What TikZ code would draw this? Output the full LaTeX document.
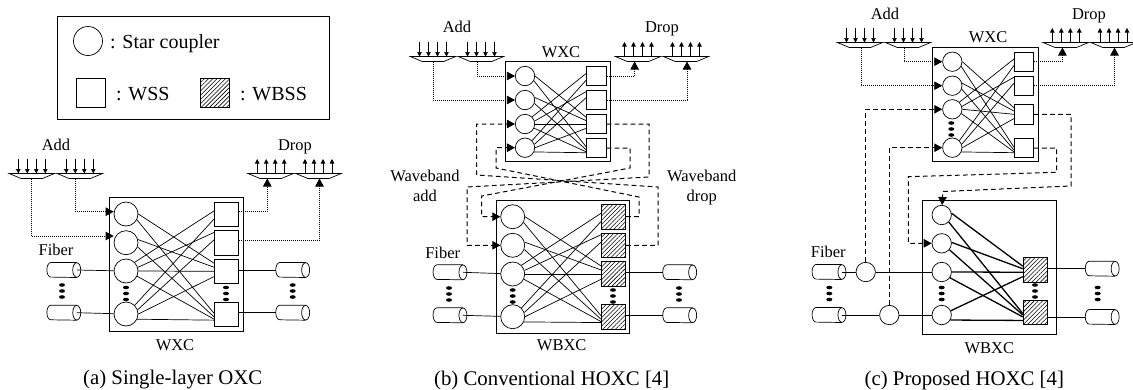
\documentclass[tikz,border=0pt]{standalone}
\usepackage{fontspec}
\setmainfont{Liberation Serif}
\usetikzlibrary{patterns.meta,arrows.meta}
\newcommand\labelsize{\fontsize{16.5}{19.5}\selectfont}
\newcommand\legendsize{\fontsize{20}{22}\selectfont}
\newcommand\captionsize{\fontsize{20.8}{23}\selectfont}
\newcommand\meshlist{1/0/3/147,1/-28/4/175,2/15/3/162,2/-20/4/191,3/45/1/165,3/17/2/140,3/0/3/180,3/-25/4/201,4/45/1/201,4/20/2/166,4/0/3/203,4/-25/4/205}
\newcommand\wxcmesh[2][]{
  \foreach \cn/\ca/\sn/\sa in \meshlist
    \draw[meshline,#1] (#2c\cn.\ca) -- (#2s\sn.\sa) ;
}
\newcommand\muxshape[3]{
  \node (#1) [muxbox] at (#2,#3) {} ;
  \draw[thinline] (#1.north west) -- (#1.north east) -- ([xshift=-12pt]#1.south east)
     -- ([xshift=12pt]#1.south west) -- cycle ;
}
\newcommand\addmux[3]{
  \muxshape{#1}{#2}{#3}
  \foreach \d in {-13.5,-4.5,4.5,13.5}
    \draw[addarrow] ([xshift=\d pt,yshift=14.5pt]#1.north) -- ([xshift=\d pt]#1.north) ;
}
\newcommand\dropmux[3]{
  \muxshape{#1}{#2}{#3}
  \foreach \d in {-13.5,-4.5,4.5,13.5}
    \draw[addarrow] ([xshift=\d pt]#1.north) -- ([xshift=\d pt,yshift=14.5pt]#1.north) ;
}
\newcommand\fibercable[3]{
  \node (#1) [cablebox] at (#2,#3) {} ;
  \draw[thinline] ([xshift=-4pt]#1.east) ellipse (4pt and 7.3pt) ;
  \draw[thinline] ([xshift=-4pt]#1.north east) -- ([xshift=4pt]#1.north west)
     arc (90:270:4pt and 7.3pt) -- ([xshift=-4pt]#1.south east) ;
}
\newcommand\vdotstack[2]{
  \foreach \d in {-6,0,6}
    \fill (#1,{#2+\d}) ellipse (3pt and 1.8pt) ;
}
\tikzset{
  thinline/.style={line width=.7pt},
  meshline/.style={thinline},
  coupler/.style={circle,draw,thinline,inner sep=0pt,minimum size=#1},
  coupler/.default=24pt,
  wssbox/.style={rectangle,draw,thinline,inner sep=0pt,minimum size=#1},
  wssbox/.default=24.4pt,
  wbssbox/.style={wssbox=#1,pattern={Lines[angle=45,distance=3pt,line width=.55pt]}},
  wbssbox/.default=24.4pt,
  oxcbox/.style={rectangle,draw,line width=.8pt,inner sep=0pt},
  cablebox/.style={rectangle,inner sep=0pt,minimum width=33.5pt,minimum height=14.6pt},
  muxbox/.style={rectangle,inner sep=0pt,minimum width=45pt,minimum height=4.6pt},
  addarrow/.style={thinline,-{Triangle[length=4.5pt,width=4.5pt]}},
  dottedline/.style={line width=.7pt,dash pattern=on 1pt off 1pt,-{Triangle[length=8pt,width=8.5pt]}},
  dashedline/.style={line width=1pt,dash pattern=on 4.7pt off 3.3pt,-{Triangle[length=8pt,width=8.5pt]}},
  textlabel/.style={anchor=base,inner sep=0pt,font=\labelsize},
  legendtext/.style={anchor=base west,inner sep=0pt,font=\legendsize},
  captiontext/.style={anchor=base,inner sep=0pt,font=\captionsize},
}
\begin{document}
\begin{tikzpicture}[x=1pt,y=-1pt]
  \useasboundingbox (0,0) rectangle (1133,389) ;
  \node (legendbox) [oxcbox,minimum width=272pt,minimum height=103pt] at (193,67.5) {} ;
  \node (legendstar) [coupler=29pt] at (88,41) {} ;
  \node (legendstartext) [legendtext] at (110,48) {: Star coupler} ;
  \node (legendwss) [wssbox=29pt] at (90.5,93) {} ;
  \node (legendwsstext) [legendtext] at (116,100) {: WSS} ;
  \node (legendwbss) [wbssbox=29pt] at (214.5,93) {} ;
  \node (legendwbsstext) [legendtext] at (240,100) {: WBSS} ;

  \node (aoxc) [oxcbox,minimum width=134pt,minimum height=133.6pt] at (176.3,264.5) {} ;
  \foreach \n/\y in {1/214,2/242.7,3/271,4/314}
    \node (ac\n) [coupler] at (126,\y) {} ;
  \foreach \n/\y in {1/214.3,2/243,3/271.3,4/314.3}
    \node (as\n) [wssbox] at (226.5,\y) {} ;
  \wxcmesh{a}
  \vdotstack{126}{293.5} \vdotstack{226}{293.5}
  \node (aaddlabel) [textlabel] at (56,150) {Add} ;
  \node (adroplabel) [textlabel] at (295,150) {Drop} ;
  \node (afiberlabel) [textlabel] at (56,255) {Fiber} ;
  \node (awxclabel) [textlabel] at (175,350.5) {WXC} ;
  \node (acaption) [captiontext] at (172.7,384) {(a) Single-layer OXC} ;
  \addmux{aadd1}{31.8}{176}
  \addmux{aadd2}{79.8}{176}
  \dropmux{adrop1}{270.7}{176}
  \dropmux{adrop2}{318.5}{176}
  \draw[dottedline] (aadd1.south) |- ([yshift=6.7pt]ac2.west) ;
  \draw[dottedline] ([xshift=-4pt]aadd2.south) |- ([yshift=2.3pt]ac1.west) ;
  \draw[dottedline] ([yshift=2.6pt]as1.east) -| ([xshift=-3.4pt]adrop1.south) ;
  \draw[dottedline] ([yshift=2.3pt]as2.east) -| ([xshift=1pt]adrop2.south) ;
  \fibercable{afl1}{63.8}{270}
  \fibercable{afl2}{63.8}{312.7}
  \fibercable{afr1}{292.7}{270}
  \fibercable{afr2}{292.7}{312.7}
  \vdotstack{62}{291} \vdotstack{292.7}{291}
  \draw[thinline] ([xshift=-4pt]afl1.east) -- (ac3) ;
  \draw[thinline] ([xshift=-4pt]afl2.east) -- (ac4) ;
  \draw[thinline] (as3.east |- afr1) -- (afr1.west) ;
  \draw[thinline] (as4.east |- afr2) -- (afr2.west) ;

  \node (bwxc) [oxcbox,minimum width=105pt,minimum height=100pt] at (558.2,111.7) {} ;
  \foreach \n/\y in {1/76,2/100,3/124,4/147.7}
    \node (bc\n) [coupler=19.4pt] at (525,\y) {} ;
  \foreach \n/\y in {1/76,2/100,3/124,4/148}
    \node (bs\n) [wssbox=19.6pt] at (596.5,\y) {} ;
  \wxcmesh{b}
  \node (bxaddlabel) [textlabel] at (457,32.3) {Add} ;
  \node (bxdroplabel) [textlabel] at (662,32.3) {Drop} ;
  \node (bwxclabel) [textlabel] at (561,57.3) {WXC} ;
  \addmux{badd1}{433}{59}
  \addmux{badd2}{481}{59}
  \dropmux{bdrop1}{638}{59}
  \dropmux{bdrop2}{686}{59}
  \draw[dottedline] (badd1.south) |- (bc2) ;
  \draw[dottedline] ([xshift=-4pt]badd2.south) |- (bc1) ;
  \draw[dottedline] (bs1) -| ([xshift=-3.4pt]bdrop1.south) ;
  \draw[dottedline] (bs2) -| ([xshift=1pt]bdrop2.south) ;
  \node (bwaveadd) [textlabel] at (425,181) {Waveband} ;
  \node (bwaveadd2) [textlabel] at (425,201) {add} ;
  \node (bwavedrop) [textlabel] at (701.7,181) {Waveband} ;
  \node (bwavedrop2) [textlabel] at (701.7,201) {drop} ;
  \node (boxc) [oxcbox,minimum width=133.7pt,minimum height=133.7pt] at (562.8,266.8) {} ;
  \foreach \n/\y in {1/216.7,2/245.3,3/274,4/316.7}
    \node (dc\n) [coupler] at (512.7,\y) {} ;
  \foreach \n/\y in {1/216.7,2/245.3,3/274,4/316.7}
    \node (ds\n) [wbssbox] at (613.5,\y) {} ;
  \wxcmesh{d}
  \vdotstack{512.7}{296} \vdotstack{613}{296}
  \draw[dashedline] (ds2) -- (658,245.3) -- (658,187) -- (476.7,175) |- (bc3) ;
  \draw[dashedline] (ds1) -- (639,216.7) -- (639,197) -- (496,168) |- (bc4) ;
  \draw[dashedline] (bs3) -- (649,124) -- (649,177) -- (467,187) |- (dc2) ;
  \draw[dashedline] (bs4) -- (630,148) -- (630,168) -- (481.7,196) |- (dc1) ;
  \node (bfiberlabel) [textlabel] at (442.7,258.3) {Fiber} ;
  \node (bwbxclabel) [textlabel] at (561.7,350) {WBXC} ;
  \node (bcaption) [captiontext] at (551.7,385) {(b) Conventional HOXC [4]} ;
  \fibercable{bfl1}{450}{272.3}
  \fibercable{bfl2}{450}{315.3}
  \fibercable{bfr1}{679.7}{272.3}
  \fibercable{bfr2}{679.7}{315.3}
  \vdotstack{449}{294} \vdotstack{679}{294}
  \draw[thinline] ([xshift=-4pt]bfl1.east) -- (dc3) ;
  \draw[thinline] ([xshift=-4pt]bfl2.east) -- (dc4) ;
  \draw[thinline] (ds3.east |- bfr1) -- (bfr1.west) ;
  \draw[thinline] (ds4.east |- bfr2) -- (bfr2.west) ;

  \node (cwxc) [oxcbox,minimum width=105.6pt,minimum height=114pt] at (985.5,104.7) {} ;
  \foreach \n/\y in {1/61.7,2/85.7,3/109.3,4/147.7}
    \node (cc\n) [coupler=19.4pt] at (952.3,\y) {} ;
  \foreach \n/\y in {1/61.7,2/85.7,3/114.3,4/148}
    \node (cs\n) [wssbox=19.4pt] at (1024,\y) {} ;
  \wxcmesh{c}
  \vdotstack{951.3}{129}
  \node (caddlabel) [textlabel] at (885,19) {Add} ;
  \node (cdroplabel) [textlabel] at (1089,19) {Drop} ;
  \node (cwxclabel) [textlabel] at (988,42.7) {WXC} ;
  \addmux{cadd1}{860}{45}
  \addmux{cadd2}{908}{45}
  \dropmux{cdrop1}{1065.8}{45}
  \dropmux{cdrop2}{1113.5}{45}
  \draw[dottedline] ([xshift=1pt]cadd1.south) |- (cc2) ;
  \draw[dottedline] ([xshift=-4pt]cadd2.south) |- (cc1) ;
  \draw[dottedline] (cs1) -| ([xshift=-3.4pt]cdrop1.south) ;
  \draw[dottedline] (cs2) -| ([xshift=1pt]cdrop2.south) ;
  \node (coxc) [oxcbox,minimum width=133.6pt,minimum height=133.4pt] at (989.5,267.4) {} ;
  \foreach \n/\y in {1/215,2/243.3,3/272,4/315}
    \node (ec\n) [coupler=19.4pt] at (941.7,\y) {} ;
  \node (es1) [wbssbox] at (1035.3,270) {} ;
  \node (es2) [wbssbox] at (1035.3,312.3) {} ;
  \foreach \cn/\ca/\sn/\sa in {1/10/1/163,2/5/1/174,3/0/1/190,4/25/1/208,1/-45/2/185,2/-40/2/192,3/-35/2/200,4/-30/2/213}
    \draw[line width=1.3pt] (ec\cn.\ca) -- (es\sn.\sa) ;
  \vdotstack{941.7}{293.5} \vdotstack{1035}{291}
  \node (csp1) [coupler=19.4pt] at (865.7,272) {} ;
  \node (csp2) [coupler=19.4pt] at (889.3,315) {} ;
  \draw[dashedline] (csp1) |- (cc3) ;
  \draw[dashedline] (csp2) |- (cc4) ;
  \draw[dashedline] (cs3) -- (1071,114.3) -- (1071,186) -- (942.7,191.5) -- (ec1) ;
  \draw[dashedline] (cs4) -- (1056.7,148) -- (1056.7,172.3) -- (908.3,176.7) |- (ec2) ;
  \node (cfiberlabel) [textlabel] at (828.3,257.7) {Fiber} ;
  \node (cwbxclabel) [textlabel] at (989.3,353.3) {WBXC} ;
  \node (ccaption) [captiontext] at (964.3,385) {(c) Proposed HOXC [4]} ;
  \fibercable{cfl1}{829}{272}
  \fibercable{cfl2}{829}{315}
  \fibercable{cfr1}{1102.2}{268.7}
  \fibercable{cfr2}{1102.2}{317}
  \vdotstack{829.3}{293.5} \vdotstack{1097.7}{293.5}
  \draw[thinline] ([xshift=-4pt]cfl1.east) -- (csp1) ;
  \draw[thinline] ([xshift=-4pt]cfl2.east) -- (csp2) ;
  \draw[thinline] (csp1) -- (ec3) ;
  \draw[thinline] (csp2) -- (ec4) ;
  \draw[thinline] (es1.east |- cfr1) -- (cfr1.west) ;
  \draw[thinline] (es2.east |- cfr2) -- (cfr2.west) ;
\end{tikzpicture}
\end{document}
